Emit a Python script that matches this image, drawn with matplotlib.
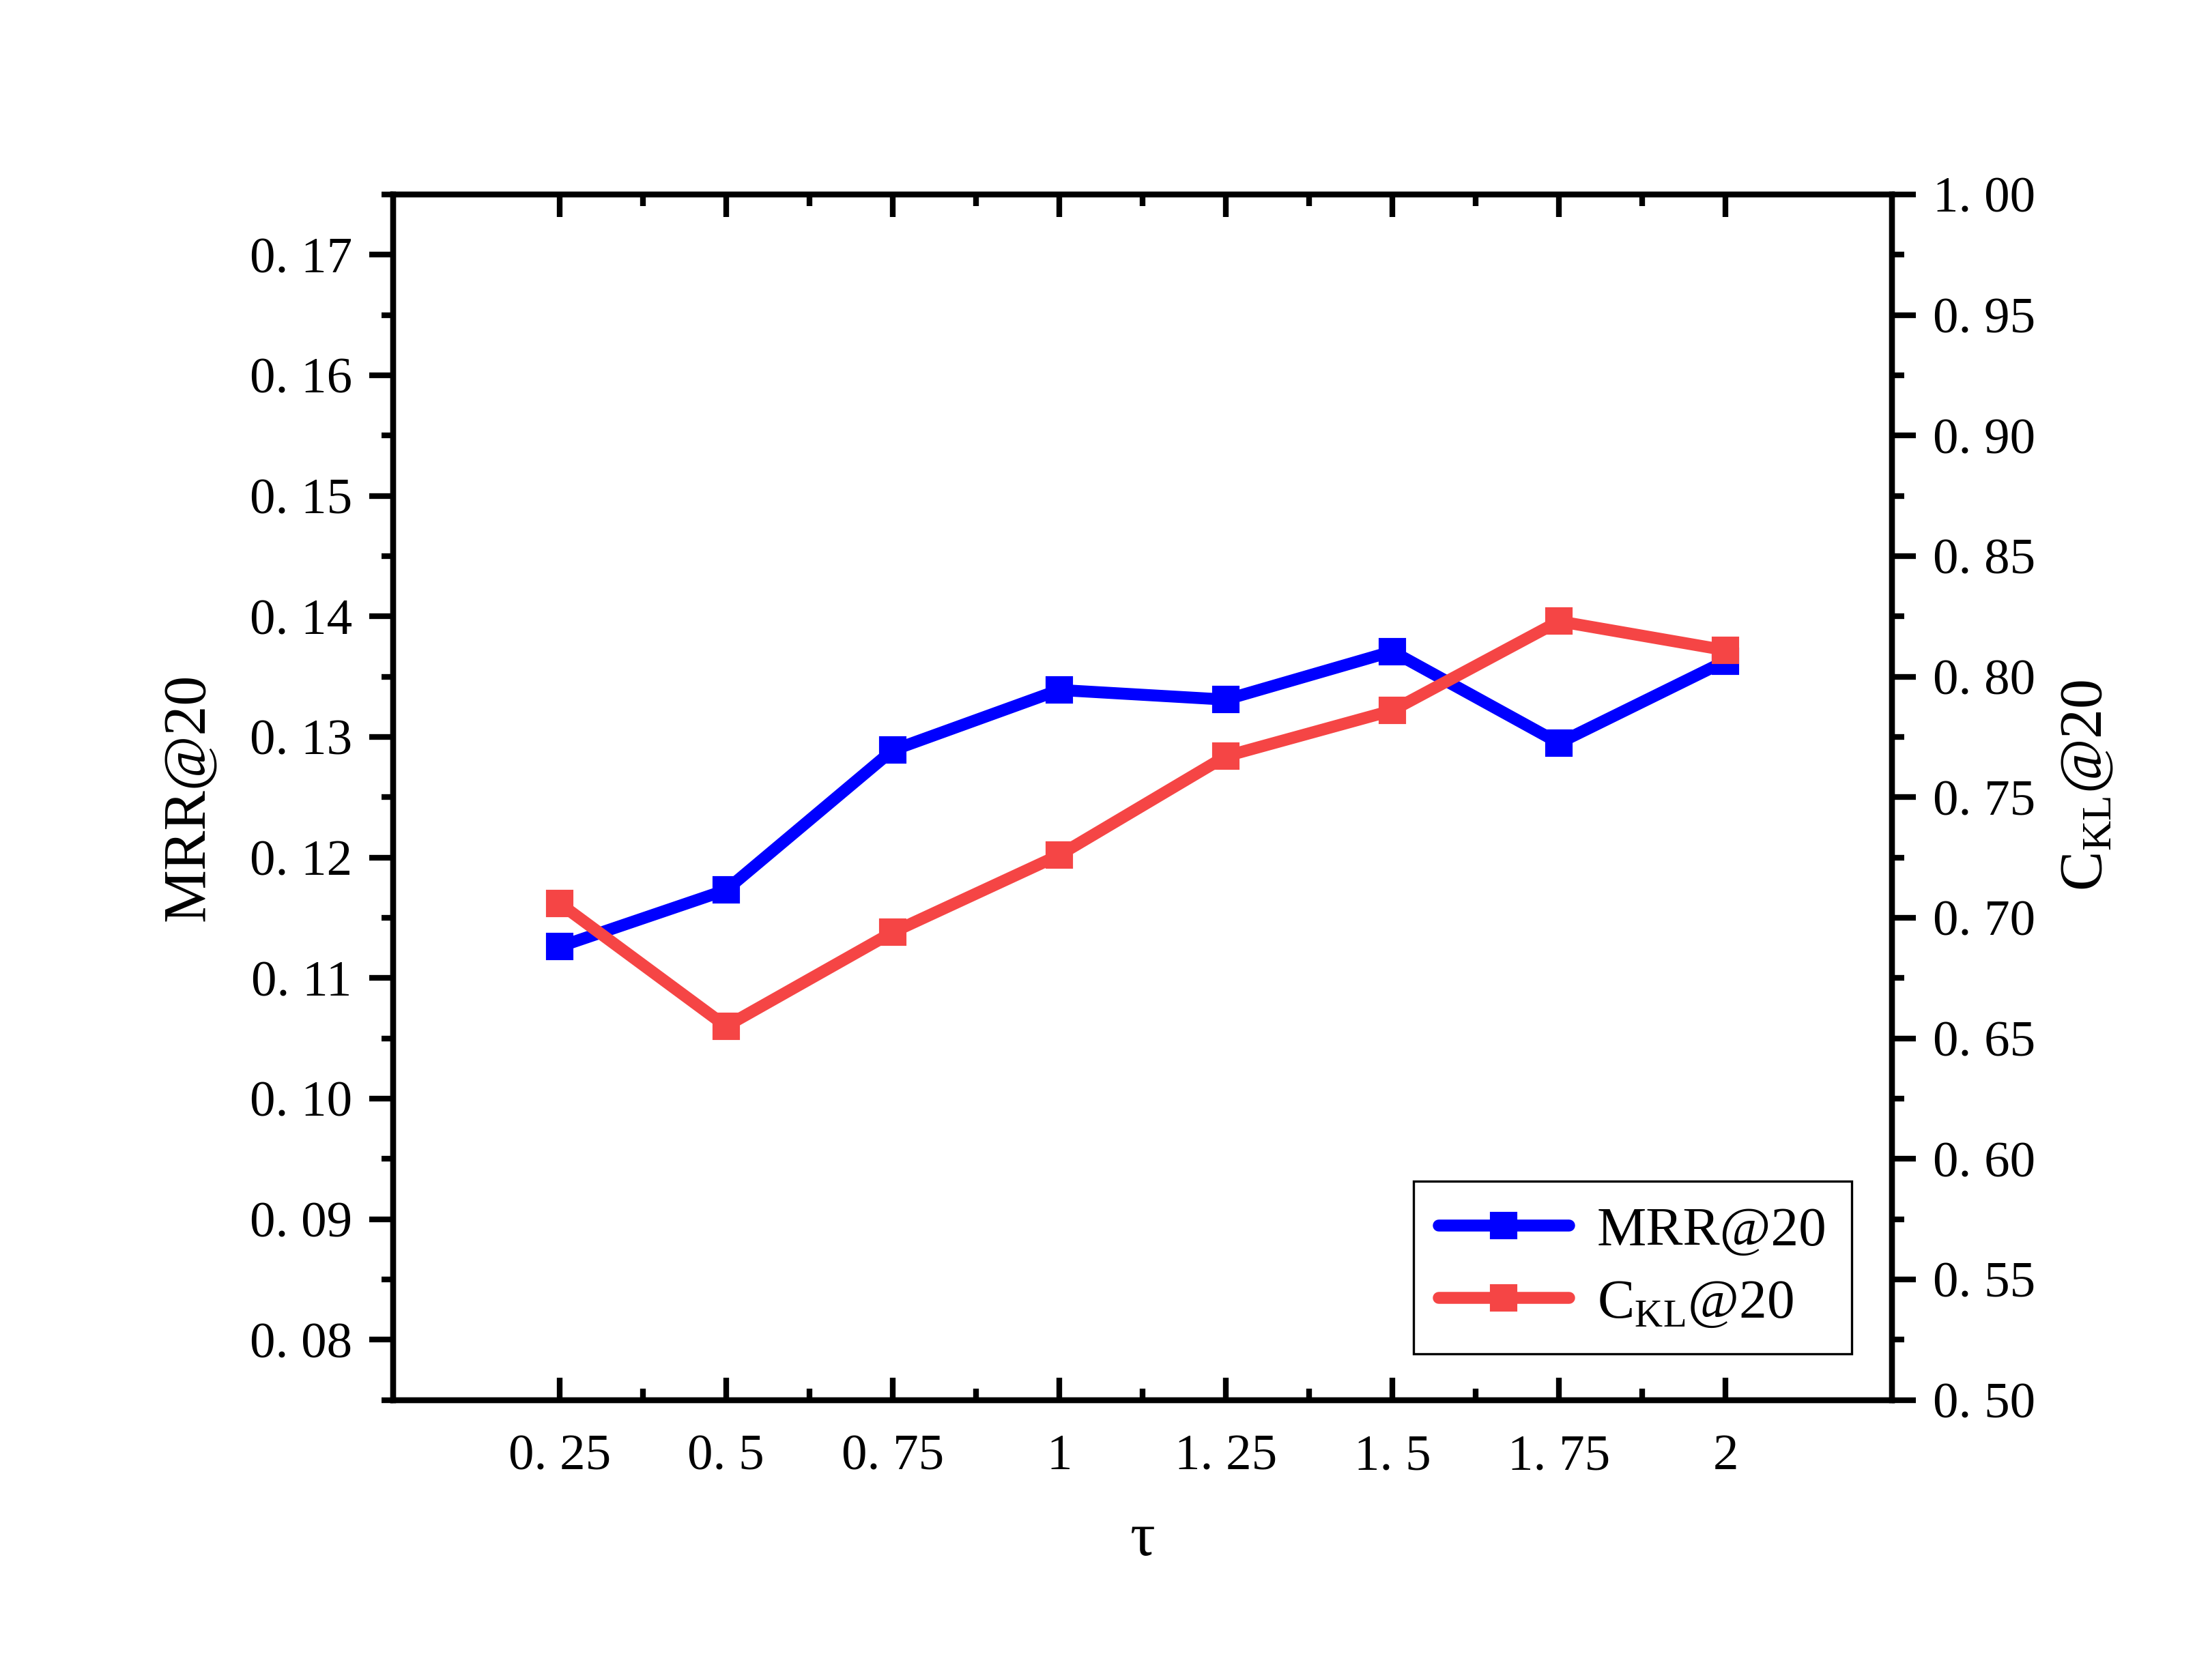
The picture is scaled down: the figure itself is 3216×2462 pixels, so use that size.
import numpy as np
import matplotlib
matplotlib.use('Agg')
from matplotlib import pyplot as plt
from matplotlib.ticker import FixedLocator, MultipleLocator, FuncFormatter

plt.rcParams['font.family'] = ['Liberation Serif', 'DejaVu Serif']
plt.rcParams['mathtext.fontset'] = 'custom'
plt.rcParams['mathtext.rm'] = 'Liberation Serif'

tau = [0.25, 0.5, 0.75, 1.0, 1.25, 1.5, 1.75, 2.0]
tau_labels = ['0. 25', '0. 5', '0. 75', '1', '1. 25', '1. 5', '1. 75', '2']
mrr = [0.1126, 0.1173, 0.1289, 0.1339, 0.1331, 0.1371, 0.1295, 0.1363]
ckl = [0.706, 0.655, 0.694, 0.726, 0.767, 0.786, 0.823, 0.811]

blue = '#0000FF'
red = '#F54545'
lw_spine = 2.0

fig = plt.figure(figsize=(10.72, 8.2067), dpi=300)
ax = fig.add_axes([0.179, 0.1667, 0.683, 0.7175])
ax2 = ax.twinx()

l1, = ax.plot(tau, mrr, color=blue, lw=4.2, marker='s', ms=8.5,
              label='MRR@20', solid_capstyle='round')
l2, = ax2.plot(tau, ckl, color=red, lw=4.2, marker='s', ms=8.5,
               label='C$_{\\mathregular{KL}}$@20', solid_capstyle='round')

ax.set_xlim(0, 2.25)
ax.set_ylim(0.075, 0.175)
ax2.set_ylim(0.5, 1.0)

ax.xaxis.set_major_locator(FixedLocator(tau))
ax.xaxis.set_minor_locator(FixedLocator([0.375, 0.625, 0.875, 1.125, 1.375, 1.625, 1.875]))
ax.set_xticklabels(tau_labels)
ax.yaxis.set_major_locator(MultipleLocator(0.01))
ax.yaxis.set_minor_locator(MultipleLocator(0.005))
ax2.yaxis.set_major_locator(MultipleLocator(0.05))
ax2.yaxis.set_minor_locator(MultipleLocator(0.025))
fmt = FuncFormatter(lambda v, p: ('%.2f' % v).replace('.', '. '))
ax.yaxis.set_major_formatter(fmt)
ax2.yaxis.set_major_formatter(fmt)

for a in (ax, ax2):
    for s in a.spines.values():
        s.set_linewidth(lw_spine)
ax.tick_params(axis='x', which='both', direction='in', top=True, width=lw_spine,
               labelsize=18, pad=12)
ax.tick_params(axis='x', which='major', length=8)
ax.tick_params(axis='x', which='minor', length=4)
for a in (ax, ax2):
    a.tick_params(axis='y', which='both', direction='out', width=lw_spine,
                  labelsize=18, pad=6)
    a.tick_params(axis='y', which='major', length=8.4)
    a.tick_params(axis='y', which='minor', length=4.2)

ax.set_xlabel('τ', fontsize=22)
ax.xaxis.set_label_coords(0.5, -0.116)
ax.xaxis.label.set_va('center')
ax.set_ylabel('MRR@20', fontsize=21)
ax.yaxis.set_label_coords(-0.136, 0.5)
ax.yaxis.label.set_va('center')
ax2.set_ylabel('C$_{\\mathregular{KL}}$@20', fontsize=21)
ax2.yaxis.set_label_coords(1.13, 0.51)
ax2.yaxis.label.set_va('center')

leg = ax2.legend([l1, l2], [l1.get_label(), l2.get_label()], loc='lower right',
                 bbox_to_anchor=(0.973, 0.038), borderaxespad=0, fontsize=19.5,
                 fancybox=False, edgecolor='black', framealpha=1,
                 handlelength=2.35, handletextpad=0.5, labelspacing=0.4,
                 borderpad=0.45)
leg.get_frame().set_linewidth(0.8)

fig.savefig('out.png', dpi=300)
